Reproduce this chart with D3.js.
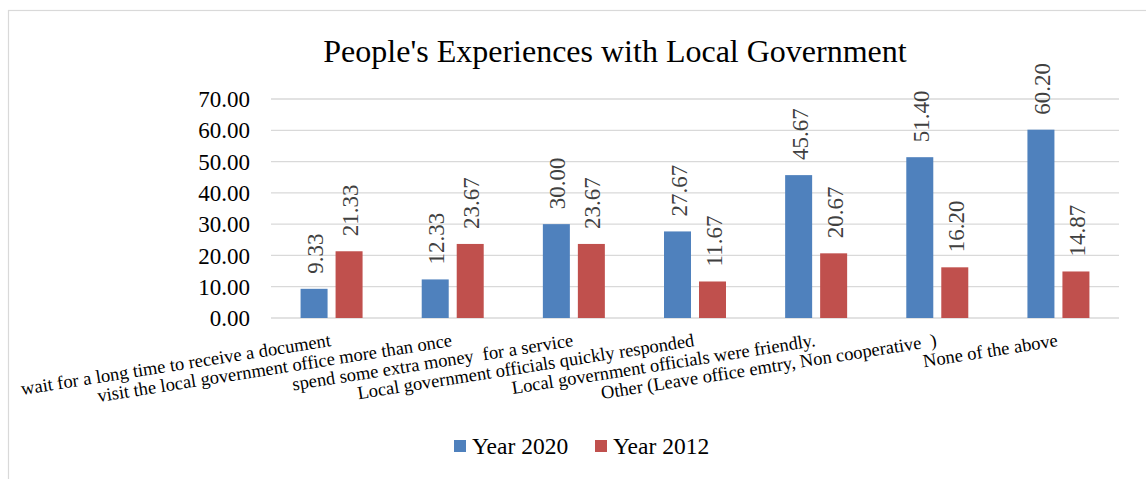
<!DOCTYPE html>
<html>
<head>
<meta charset="utf-8">
<script src="https://cdn.jsdelivr.net/npm/d3@7"></script>
<style>
  html, body { margin: 0; padding: 0; background: #fff; }
  svg { display: block; }
  svg text { font-family: "Liberation Serif", "Times New Roman", serif; white-space: pre; }
</style>
</head>
<body>
<svg id="chart" width="1146" height="479"></svg>
<script>
// Survey responses: share of respondents per experience
const categories = [
  "wait for a long time to receive a document",
  "visit the local government office more than once",
  "spend some extra money  for a service",
  "Local government officials quickly responded",
  "Local government officials were friendly.",
  "Other (Leave office emtry, Non cooperative  )",
  "None of the above"
];
const seriesNames = ["Year 2020", "Year 2012"];
const year2020 = [9.33, 12.33, 30.00, 27.67, 45.67, 51.40, 60.20];
const year2012 = [21.33, 23.67, 23.67, 11.67, 20.67, 16.20, 14.87];
const yTicks = [0, 10, 20, 30, 40, 50, 60, 70];
const colors = ["#4F81BD", "#C0504D"];

const serif = "Liberation Serif, Times New Roman, serif";
const svg = d3.select("#chart");

// chart frame
svg.append("rect")
  .attr("x", 8.5).attr("y", 10.5)
  .attr("width", 1200).attr("height", 600)
  .attr("fill", "none").attr("stroke", "#D9D9D9").attr("stroke-width", 1.2);

const plot = { left: 271, right: 1119, top: 99, bottom: 318 };

const y = d3.scaleLinear().domain([0, 70]).range([plot.bottom, plot.top]);
const x0 = d3.scaleBand().domain(categories).range([plot.left, plot.right]).padding(0);
const x1 = d3.scaleBand().domain(seriesNames).range([0, x0.bandwidth()])
  .paddingInner(0.2286).paddingOuter(0.845);

// title
svg.append("text")
  .attr("x", 615).attr("y", 62)
  .attr("text-anchor", "middle")
  .attr("font-family", serif)
  .attr("font-size", 32)
  .attr("fill", "#000")
  .text("People's Experiences with Local Government");

// gridlines
svg.append("g").selectAll("line").data(yTicks).join("line")
  .attr("x1", plot.left).attr("x2", plot.right)
  .attr("y1", d => y(d)).attr("y2", d => y(d))
  .attr("stroke", "#D9D9D9").attr("stroke-width", 1.3);

// y axis labels
const yAxis = d3.axisLeft(y).tickValues(yTicks).tickFormat(d3.format(".2f")).tickSize(0).tickPadding(0);
const yg = svg.append("g").attr("transform", `translate(${plot.left - 21},0)`).call(yAxis);
yg.attr("font-family", serif);
yg.select(".domain").remove();
yg.selectAll("text")
  .attr("font-family", serif)
  .attr("font-size", 23)
  .attr("fill", "#000")
  .attr("dy", "0.33em");

// bars
const rows = categories.map((c, i) => ({ cat: c, values: [year2020[i], year2012[i]] }));
const groups = svg.append("g").selectAll("g").data(rows).join("g")
  .attr("transform", d => `translate(${x0(d.cat)},0)`);

groups.selectAll("rect").data(d => d.values.map((v, k) => ({ key: seriesNames[k], v, k })))
  .join("rect")
  .attr("x", d => x1(d.key))
  .attr("width", x1.bandwidth())
  .attr("y", d => y(d.v))
  .attr("height", d => y(0) - y(d.v))
  .attr("fill", d => colors[d.k]);

// value labels, rotated
groups.selectAll("text.val").data(d => d.values.map((v, k) => ({ key: seriesNames[k], v, k })))
  .join("text")
  .attr("class", "val")
  .attr("transform", d => `translate(${x1(d.key) + x1.bandwidth() / 2 + 1},${y(d.v) - 15}) rotate(-90)`)
  .attr("dy", "0.35em")
  .attr("text-anchor", "start")
  .attr("font-family", serif)
  .attr("font-size", 23)
  .attr("fill", "#404040")
  .text(d => d.v.toFixed(2));

// category labels, slanted
svg.append("g").selectAll("text").data(categories).join("text")
  .attr("transform", d => `translate(${x0(d) + x0.bandwidth() / 2},346) rotate(-9)`)
  .attr("text-anchor", "end")
  .attr("font-family", serif)
  .attr("font-size", 18.5)
  .attr("fill", "#000")
  .text(d => d);

// legend
const legend = svg.append("g");
const legendX = [454, 595];
seriesNames.forEach((name, k) => {
  legend.append("rect")
    .attr("x", legendX[k]).attr("y", 440)
    .attr("width", 12).attr("height", 12)
    .attr("fill", colors[k]);
  legend.append("text")
    .attr("x", legendX[k] + 18).attr("y", 453.5)
    .attr("font-family", serif)
    .attr("font-size", 23.5)
    .attr("fill", "#000")
    .text(name);
});
</script>
</body>
</html>
